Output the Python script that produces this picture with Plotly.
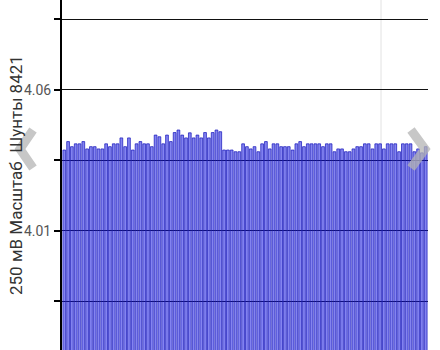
import plotly.graph_objects as go

values = [
    4.0387, 4.0417, 4.0399, 4.0409, 4.0409, 4.0417, 4.0391, 4.0399, 4.0399, 4.0391,
    4.0391, 4.0409, 4.0399, 4.0409, 4.0409, 4.0430, 4.0399, 4.0430, 4.0387, 4.0409,
    4.0417, 4.0409, 4.0409, 4.0399, 4.0440, 4.0434, 4.0409, 4.0440, 4.0417, 4.0449,
    4.0458, 4.0440, 4.0430, 4.0448, 4.0430, 4.0440, 4.0430, 4.0449, 4.0430, 4.0449,
    4.0458, 4.0452, 4.0387, 4.0387, 4.0387, 4.0381, 4.0381, 4.0409, 4.0399, 4.0391,
    4.0399, 4.0381, 4.0409, 4.0417, 4.0391, 4.0409, 4.0409, 4.0399, 4.0399, 4.0399,
    4.0387, 4.0409, 4.0417, 4.0399, 4.0409, 4.0409, 4.0409, 4.0409, 4.0399, 4.0409,
    4.0409, 4.0381, 4.0391, 4.0391, 4.0381, 4.0381, 4.0391, 4.0399, 4.0399, 4.0409,
    4.0409, 4.0391, 4.0409, 4.0409, 4.0391, 4.0409, 4.0409, 4.0409, 4.0381, 4.0409,
    4.0409, 4.0409, 4.0381, 4.0391, 4.0377, 4.0399,
]
categories = list(range(1, len(values) + 1))
tick_values = [3.985, 4.01, 4.035, 4.06, 4.085]
tick_labels = ["", "4.01", "", "4.06", ""]
axis_title = "250 мВ Масштаб  Шунты 8421"

W, H = 440, 350
L, R = 62, 12
PW = W - L - R

def px(x):
    return (x - L) / PW

def py(y):
    return (H - y) / H

fig = go.Figure(go.Bar(
    x=categories, y=values,
    marker=dict(color="rgba(10,10,225,0.5)",
                line=dict(color="rgba(30,30,190,0.75)", width=1)),
    width=0.72,
))

shapes = [
    dict(type="line", xref="paper", yref="paper", x0=px(381), x1=px(381), y0=0, y1=1,
         line=dict(color="#e2e2e2", width=1), layer="below"),
    dict(type="path", xref="paper", yref="paper",
         path=f"M {px(33)},{py(130)} L {px(20)},{py(149)} L {px(33)},{py(168)}",
         line=dict(color="rgba(180,180,180,0.75)", width=9)),
    dict(type="path", xref="paper", yref="paper",
         path=f"M {px(411)},{py(130)} L {px(425)},{py(149)} L {px(411)},{py(168)}",
         line=dict(color="rgba(180,180,180,0.75)", width=9)),
]

fig.update_layout(
    width=W, height=H,
    margin=dict(l=L, r=R, t=0, b=0),
    paper_bgcolor="white", plot_bgcolor="white",
    showlegend=False,
    font=dict(family="Roboto", size=12, color="#444"),
    xaxis=dict(visible=False, range=[0.4, len(values) + 0.6]),
    yaxis=dict(
        range=[3.9678, 4.0919],
        tickvals=tick_values, ticktext=tick_labels,
        showgrid=True, gridcolor="#111", gridwidth=1,
        showline=True, linecolor="#000", linewidth=2,
        ticks="outside", ticklen=6, tickwidth=2, tickcolor="#000",
        zeroline=False,
        tickfont=dict(size=14, color="#555"),
        ticklabelstandoff=0,
    ),
    shapes=shapes,
    annotations=[dict(
        text=axis_title, xref="paper", yref="paper",
        x=px(16), y=0.5, showarrow=False, textangle=-90,
        font=dict(size=17, color="#333", family="Roboto"),
        xanchor="center", yanchor="middle",
    )],
)

fig.write_html("out.html")
